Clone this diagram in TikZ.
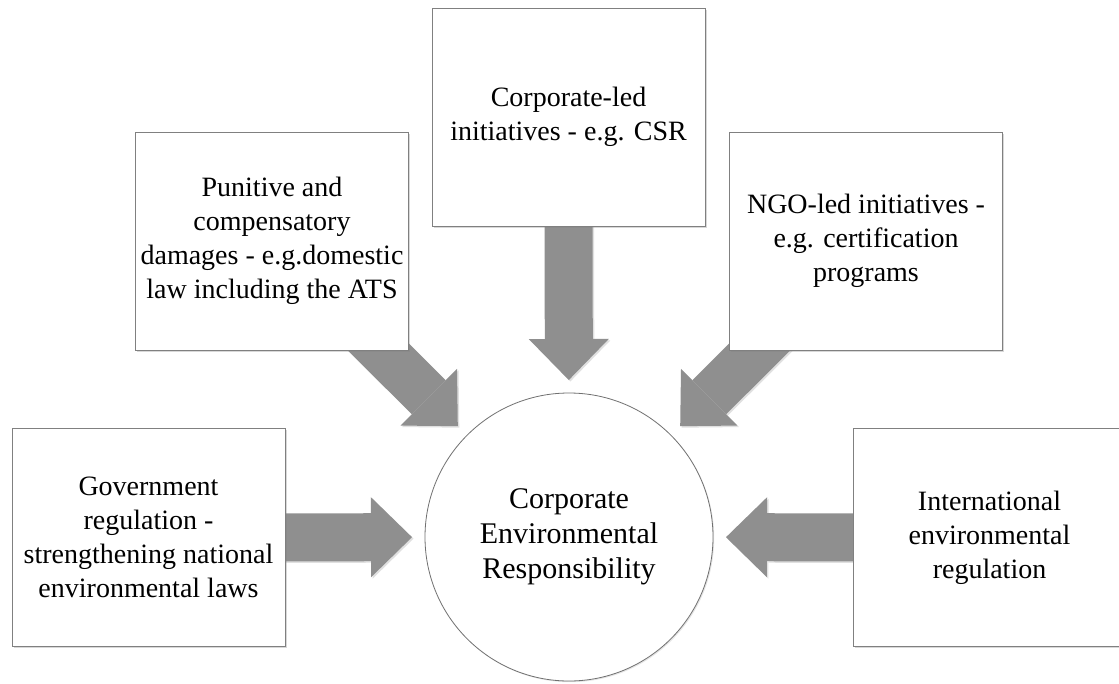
\documentclass[tikz,border=0pt]{standalone}
\usepackage{fontspec}
\setmainfont{Liberation Serif}
\usetikzlibrary{arrows.meta,shadows}
\pgfdeclarelayer{bottom}
\pgfdeclarelayer{background}
\pgfsetlayers{bottom,background,main}
\definecolor{arrowgray}{HTML}{8F8F8F}
\definecolor{boxline}{HTML}{808080}
\definecolor{hubline}{HTML}{707070}
\begin{document}
\begin{tikzpicture}[x=1pt,y=-1pt,
  srcbox/.style={draw=boxline, line width=0.8pt, fill=white, minimum width=273pt,
    minimum height=218pt, inner sep=0pt, align=center,
    font=\fontsize{28}{34}\selectfont,
    drop shadow={shadow xshift=1.8pt, shadow yshift=-1.8pt, opacity=0.3}},
  hub/.style={circle, draw=hubline, line width=0.8pt, fill=white, minimum size=288pt,
    inner sep=0pt, align=center, font=\fontsize{30}{35}\selectfont,
    drop shadow={shadow xshift=1.2pt, shadow yshift=-1.2pt, opacity=0.2}},
  fat/.style={line width=48pt, draw=arrowgray, shorten >=157pt,
    -{Triangle[width=80pt,length=41pt,line width=0pt]}},
  fatshadow/.style={fat, draw=black!12,
    transform canvas={xshift=1.5pt,yshift=-1.5pt}}]
\useasboundingbox (0,0) rectangle (1119,683);
\begin{pgfonlayer}{bottom}
  \fill[white] (0,0) rectangle (1119,683);
\end{pgfonlayer}
\clip (0,0) rectangle (1119,683);

\node[srcbox] (top)  at (568.5,117)   {Corporate-led\\initiatives - e.g. CSR};
\node[srcbox] (pun)  at (272,241)     {Punitive and\\compensatory\\damages - e.g.domestic\\law including the ATS};
\node[srcbox] (ngo)  at (866,241)     {NGO-led initiatives -\\e.g. certification\\programs};
\node[srcbox] (gov)  at (148.5,537.5) {Government\\regulation -\\strengthening national\\environmental laws};
\node[srcbox] (intl) at (989.5,537.5) {International\\environmental\\regulation};
\node[hub]    (ctr)  at (569,537)     {Corporate\\Environmental\\Responsibility};

\begin{pgfonlayer}{background}
  \foreach \b in {top,pun,ngo,gov,intl}
    \draw[fatshadow] (\b.center) -- (ctr.center);
  \foreach \b in {top,pun,ngo,gov,intl}
    \draw[fat] (\b.center) -- (ctr.center);
\end{pgfonlayer}
\end{tikzpicture}
\end{document}
